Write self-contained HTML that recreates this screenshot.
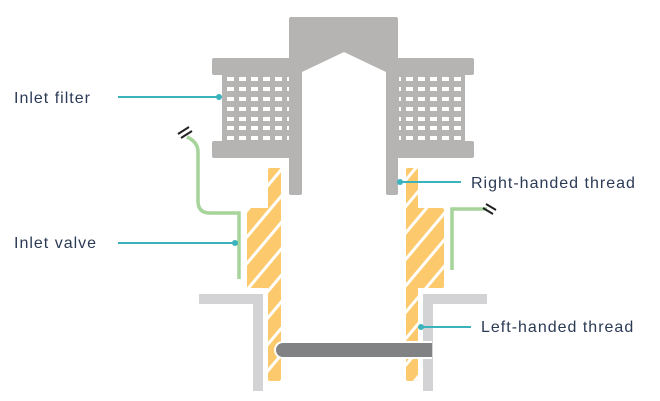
<!DOCTYPE html>
<html><head><style>
body{margin:0;background:#fff;}
svg{display:block}
text{font-family:"Liberation Sans",sans-serif;font-size:16px;letter-spacing:1px;fill:#2b3a55;}
</style></head><body>
<svg width="660" height="401" viewBox="0 0 660 401">
<defs>
<pattern id="st" patternUnits="userSpaceOnUse" width="17" height="17" patternTransform="rotate(-50)">
<rect width="17" height="17" fill="#fcc96d"/>
<rect x="0" y="0" width="17" height="3" fill="#fff"/>
</pattern>
</defs>
<!-- gray Ls -->
<path d="M199 294H263V391H253V304H199Z" fill="#d3d3d5"/>
<path d="M487 294H423V391H433V304H487Z" fill="#d3d3d5"/>
<!-- orange -->
<path d="M268 170Q268 168 270 168H279Q281 168 281 170V379Q281 381 279 381H270Q268 381 268 379V288H249Q247 288 247 286V210Q247 208 249 208H268Z" fill="url(#st)"/>
<path d="M406 170Q406 168 408 168H416Q418 168 418 170V208H442Q444 208 444 210V286Q444 288 442 288H418V379Q418 381 416 381H408Q406 381 406 379Z" fill="url(#st)"/>
<!-- green -->
<path d="M239 279V213H210Q198 213 198 201V152Q198 142 187 137" fill="none" stroke="#a6d49a" stroke-width="3.5"/>
<path d="M452 270V209H487" fill="none" stroke="#a6d49a" stroke-width="3.5"/>
<path d="M178 134L189 127M181 138L192 131" stroke="#222" stroke-width="2"/>
<path d="M483 208L493 214M486 204L496 210" stroke="#222" stroke-width="2"/>
<!-- dark bar -->
<path d="M283 341H432V359H283A9 9 0 0 1 283 341Z" fill="#fff"/>
<path d="M283 343H432V357H283A7 7 0 0 1 283 343Z" fill="#818284"/>
<!-- filter -->
<g fill="#b5b4b3">
<path d="M291 17H396Q398 17 398 19V58H472Q474 58 474 60V73Q474 75 472 75H465V141H472Q474 141 474 143V156Q474 158 472 158H398V193Q398 195 396 195H388Q386 195 386 193V72L344 52L302 72V193Q302 195 300 195H291Q289 195 289 193V158H214Q212 158 212 156V143Q212 141 214 141H222V75H214Q212 75 212 73V60Q212 58 214 58H289V19Q289 17 291 17Z"/>
<rect x="222" y="74" width="67" height="68"/>
<rect x="398" y="74" width="67" height="68"/>
</g>
<g fill="#fff">
<g id="row">
<rect x="227" y="77" width="7" height="4"/><rect x="239" y="77" width="7" height="4"/><rect x="251" y="77" width="7" height="4"/><rect x="263" y="77" width="7" height="4"/><rect x="275" y="77" width="7" height="4"/><rect x="287" y="77" width="2" height="4"/>
<rect x="399" y="77" width="2" height="4"/><rect x="406" y="77" width="7" height="4"/><rect x="418" y="77" width="7" height="4"/><rect x="430" y="77" width="7" height="4"/><rect x="442" y="77" width="7" height="4"/><rect x="454" y="77" width="7" height="4"/>
</g>
<use href="#row" y="10"/><use href="#row" y="20"/><use href="#row" y="30"/><use href="#row" y="40"/><use href="#row" y="49"/><use href="#row" y="59"/>
</g>
<!-- callouts -->
<g stroke="#3bb3bd" stroke-width="2" fill="#3bb3bd">
<line x1="118" y1="97" x2="219" y2="97"/><circle cx="219" cy="97" r="3" stroke="none"/>
<line x1="118" y1="243" x2="235" y2="243"/><circle cx="235" cy="243" r="3" stroke="none"/>
<line x1="400" y1="182" x2="461" y2="182"/><circle cx="400" cy="182" r="3" stroke="none"/>
<line x1="421" y1="327" x2="471" y2="327"/><circle cx="421" cy="327" r="3" stroke="none"/>
</g>
<text x="14" y="103">Inlet filter</text>
<text x="14" y="248">Inlet valve</text>
<text x="471" y="188">Right-handed thread</text>
<text x="481" y="332">Left-handed thread</text>
</svg>
</body></html>
